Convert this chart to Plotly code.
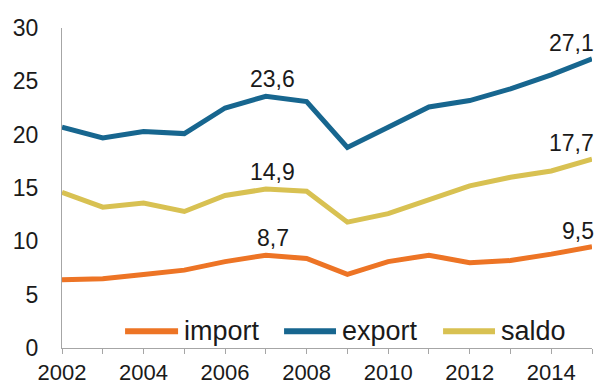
import plotly.graph_objects as go

years = list(range(2002, 2016))
import_vals = [6.4, 6.5, 6.9, 7.3, 8.1, 8.7, 8.4, 6.9, 8.1, 8.7, 8.0, 8.2, 8.8, 9.5]
export_vals = [20.7, 19.7, 20.3, 20.1, 22.5, 23.6, 23.1, 18.8, 20.7, 22.6, 23.2, 24.3, 25.6, 27.1]
saldo_vals = [14.6, 13.2, 13.6, 12.8, 14.3, 14.9, 14.7, 11.8, 12.6, 13.9, 15.2, 16.0, 16.6, 17.7]
x_tick_labels = [str(y) if y % 2 == 0 else "" for y in years]
y_ticks = [0, 5, 10, 15, 20, 25, 30]

series = [
    ("import", import_vals, "#ED7425"),
    ("export", export_vals, "#17668F"),
    ("saldo", saldo_vals, "#D8C152"),
]

FAM = "Liberation Sans, Arial, sans-serif"
font = dict(family=FAM, size=23, color="#1a1a1a")

fig = go.Figure()
for name, vals, color in series:
    fig.add_trace(go.Scatter(x=years, y=vals, name=name, mode="lines",
                             line=dict(color=color, width=5), showlegend=False))

# data labels at 2007 and 2015
for name, vals, color in series:
    i = years.index(2007)
    fig.add_annotation(x=years[i], y=vals[i], text=f"{vals[i]:.1f}".replace(".", ","),
                       showarrow=False, yshift=17, xshift=7, font=font)
    j = len(years) - 1
    fig.add_annotation(x=years[j], y=vals[j], text=f"{vals[j]:.1f}".replace(".", ","),
                       showarrow=False, yshift=16, xanchor="right", xshift=4, font=font)

# manual legend (inside the plot, bottom)
legend_pos = [(0.119, 0.219, 0.228), (0.419, 0.517, 0.527), (0.719, 0.817, 0.826)]
ly = 0.052
for (name, vals, color), (x0, x1, xt) in zip(series, legend_pos):
    fig.add_shape(type="line", xref="paper", yref="paper", x0=x0, x1=x1, y0=ly, y1=ly,
                  line=dict(color=color, width=6))
    fig.add_annotation(xref="paper", yref="paper", x=xt, y=ly, text=name, showarrow=False,
                       xanchor="left", yanchor="middle", borderpad=0,
                       font=dict(family=FAM, size=27, color="#1a1a1a"))

fig.update_layout(
    width=601, height=385,
    margin=dict(l=62, r=9, t=28, b=37, autoexpand=False),
    paper_bgcolor="white", plot_bgcolor="white",
    font=font,
    showlegend=False,
    xaxis=dict(range=[2002, 2015], tickvals=years, ticktext=x_tick_labels,
               showgrid=False, zeroline=False, showline=True, linecolor="#a6a6a6",
               linewidth=1, ticks="outside", ticklen=5, tickcolor="#a6a6a6",
               ticklabelstandoff=0, automargin=False,
               tickfont=dict(family=FAM, size=22, color="#1a1a1a")),
    yaxis=dict(range=[0, 30], tickvals=y_ticks, showgrid=False, zeroline=False,
               showline=True, linecolor="#a6a6a6", linewidth=1, ticks="",
               ticklabelstandoff=18, automargin=False),
)

fig.write_html("out.html")
